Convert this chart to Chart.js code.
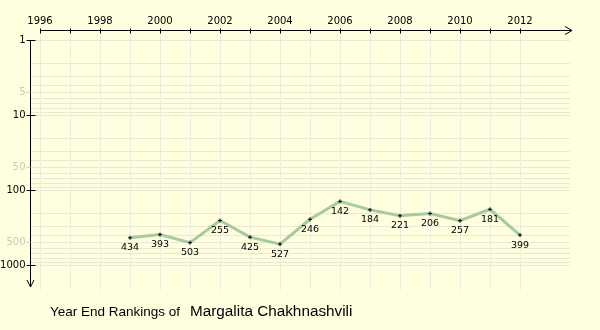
<!DOCTYPE html>
<html>
<head>
<meta charset="utf-8">
<title>Year End Rankings</title>
<script src="https://cdn.jsdelivr.net/npm/chart.js@4/dist/chart.umd.min.js"></script>
<style>
    body { margin: 0; background: #ffffe0; }
    #wrap { width: 600px; height: 330px; }
</style>
</head>
<body>
<div id="wrap"><canvas id="rankChart" width="600" height="330"></canvas></div>
<script>
// season years and year-end ranking for each one
const years = [1999, 2000, 2001, 2002, 2003, 2004, 2005, 2006, 2007, 2008, 2009, 2010, 2011, 2012];
const rankings = [434, 393, 503, 255, 425, 527, 246, 142, 184, 221, 206, 257, 181, 399];

// axis ticks
const yearTicks = [1996, 1997, 1998, 1999, 2000, 2001, 2002, 2003, 2004, 2005, 2006, 2007, 2008, 2009, 2010, 2011, 2012];
const yearLabels = [1996, 1998, 2000, 2002, 2004, 2006, 2008, 2010, 2012];
const majorRanks = [1, 10, 100, 1000];
const minorLabelRanks = [5, 50, 500];
const gridSteps = [1, 2, 3, 4, 5, 6, 7, 8, 9];
const decades = [1, 10, 100, 1000];

const playerName = 'Margalita Chakhnashvili';
const titlePrefix = 'Year End Rankings of';

const tickFont = '10px "DejaVu Sans"';
const valueFont = '9.5px "DejaVu Sans"';

// grid, axes with arrows, and tick labels
const axesPlugin = {
    id: 'rankAxes',
    beforeDatasetsDraw(chart) {
        const ctx = chart.ctx;
        const xs = chart.scales.x;
        const ys = chart.scales.y;
        const area = chart.chartArea;
        const axisY = 30.5;
        const axisX = Math.round(xs.getPixelForValue(yearTicks[0]) - 10) + 0.5;
        const xStart = Math.round(xs.getPixelForValue(yearTicks[0])) + 0.5;
        const xEnd = area.right;
        const yStart = Math.round(ys.getPixelForValue(1)) + 0.5;
        const yEnd = area.bottom;

        ctx.save();
        ctx.lineWidth = 1;

        // horizontal grid lines, one per 1..9 step of every decade
        ctx.strokeStyle = '#e8e8d4';
        decades.forEach(d => {
            gridSteps.forEach(s => {
                const y = Math.round(ys.getPixelForValue(d * s)) + 0.5;
                if (y > yEnd) return;
                ctx.beginPath();
                ctx.moveTo(axisX, y);
                ctx.lineTo(xEnd - 2, y);
                ctx.stroke();
            });
        });

        // vertical grid lines for each year
        ctx.strokeStyle = '#ececdc';
        yearTicks.forEach(yr => {
            const x = Math.round(xs.getPixelForValue(yr)) + 0.5;
            ctx.beginPath();
            ctx.moveTo(x, axisY + 1);
            ctx.lineTo(x, yEnd + 3);
            ctx.stroke();
        });

        // top year axis
        ctx.strokeStyle = '#000000';
        ctx.beginPath();
        ctx.moveTo(xStart, axisY);
        ctx.lineTo(xEnd, axisY);
        ctx.moveTo(xEnd - 7, axisY - 4);
        ctx.lineTo(xEnd, axisY);
        ctx.lineTo(xEnd - 7, axisY + 4);
        yearTicks.forEach(yr => {
            const x = Math.round(xs.getPixelForValue(yr)) + 0.5;
            ctx.moveTo(x, axisY - 2);
            ctx.lineTo(x, axisY + 3);
        });
        ctx.stroke();

        ctx.fillStyle = '#000000';
        ctx.font = tickFont;
        ctx.textAlign = 'center';
        ctx.textBaseline = 'alphabetic';
        yearLabels.forEach(yr => {
            ctx.fillText(String(yr), xs.getPixelForValue(yr), 24);
        });

        // left ranking axis, pointing down
        ctx.beginPath();
        ctx.moveTo(axisX, yStart);
        ctx.lineTo(axisX, yEnd);
        ctx.moveTo(axisX - 3.5, yEnd - 7);
        ctx.lineTo(axisX, yEnd);
        ctx.lineTo(axisX + 3.5, yEnd - 7);
        majorRanks.forEach(r => {
            const y = Math.round(ys.getPixelForValue(r)) + 0.5;
            ctx.moveTo(axisX - 4, y);
            ctx.lineTo(axisX + 5, y);
        });
        ctx.stroke();

        ctx.textAlign = 'right';
        ctx.textBaseline = 'middle';
        majorRanks.forEach(r => {
            ctx.fillText(String(r), axisX - 5, ys.getPixelForValue(r));
        });

        ctx.strokeStyle = '#d0d0c4';
        ctx.fillStyle = '#c8c8c0';
        minorLabelRanks.forEach(r => {
            const y = Math.round(ys.getPixelForValue(r)) + 0.5;
            ctx.beginPath();
            ctx.moveTo(axisX - 4, y);
            ctx.lineTo(axisX, y);
            ctx.stroke();
            ctx.fillText(String(r), axisX - 5, y);
        });

        ctx.restore();
    },
    afterDatasetsDraw(chart) {
        const ctx = chart.ctx;
        const meta = chart.getDatasetMeta(0);
        ctx.save();
        ctx.fillStyle = '#000000';
        ctx.font = valueFont;
        ctx.textAlign = 'center';
        ctx.textBaseline = 'middle';
        meta.data.forEach((pt, i) => {
            ctx.fillText(String(rankings[i]), pt.x, pt.y + 10);
        });

        // caption under the chart
        ctx.textAlign = 'left';
        ctx.textBaseline = 'alphabetic';
        ctx.font = '13.5px "Liberation Sans", Arial, sans-serif';
        ctx.fillText(titlePrefix, 50, 316);
        ctx.font = '15.3px "Liberation Sans", Arial, sans-serif';
        ctx.fillText(playerName, 190, 316);
        ctx.restore();
    }
};

const chart = new Chart(document.getElementById('rankChart'), {
    type: 'line',
    data: {
        datasets: [{
            data: years.map((yr, i) => ({ x: yr, y: rankings[i] })),
            borderColor: '#a4cc9c',
            borderWidth: 3,
            tension: 0,
            clip: false,
            pointStyle: 'cross',
            pointRadius: 2,
            pointBorderColor: '#000000',
            pointBorderWidth: 1,
            pointBackgroundColor: '#000000'
        }]
    },
    options: {
        responsive: false,
        animation: false,
        events: [],
        layout: { padding: { left: 30, right: 28, top: 40, bottom: 43 } },
        plugins: {
            legend: { display: false },
            tooltip: { enabled: false }
        },
        scales: {
            x: {
                type: 'linear',
                display: false,
                min: 1996 - 1 / 3,
                max: 1996 + 532 / 30
            },
            y: {
                type: 'logarithmic',
                display: false,
                reverse: true,
                min: 1,
                max: Math.pow(10, 247 / 75)
            }
        }
    },
    plugins: [axesPlugin]
});
</script>
</body>
</html>
